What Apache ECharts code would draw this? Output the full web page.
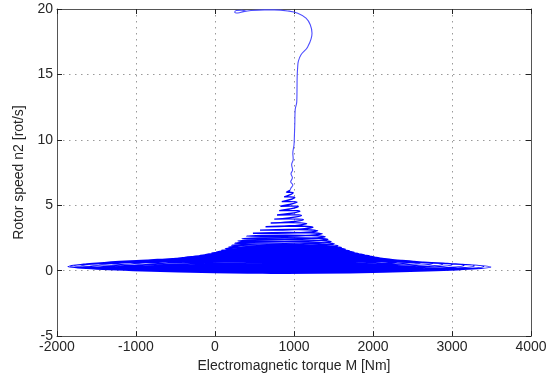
<!DOCTYPE html>
<html>
<head>
<meta charset="utf-8">
<script src="https://cdn.jsdelivr.net/npm/echarts@6/dist/echarts.min.js"></script>
<style>
  html, body { margin: 0; padding: 0; background: #fff; }
  #chart { width: 554px; height: 378px; }
</style>
</head>
<body>
<div id="chart"></div>
<script>
// axis ticks
const torqueTicks = [-2000, -1000, 0, 1000, 2000, 3000, 4000];
const speedTicks = [-5, 0, 5, 10, 15, 20];

// start of the run-up
const startTorque = [0, 900];
const startSpeed = [0, -0.2];

// one entry per torque oscillation: right tip -> top -> left tip -> bottom
const rightTorque = [3490, 3400, 3280, 3150, 3000, 2880, 2760, 2620, 2500, 2380, 2270, 2180, 2100, 2030, 1960, 1890, 1820, 1760, 1700, 1650, 1600, 1555, 1510, 1470, 1430, 1395, 1360, 1300, 1240, 1160, 1120, 1095, 1075, 1055, 1040, 1010, 990];
const rightSpeed = [0.28, 0.32, 0.36, 0.40, 0.45, 0.50, 0.55, 0.61, 0.67, 0.73, 0.80, 0.87, 0.95, 1.03, 1.12, 1.21, 1.31, 1.41, 1.52, 1.64, 1.77, 1.91, 2.06, 2.22, 2.40, 2.60, 2.82, 3.06, 3.32, 3.60, 3.90, 4.22, 4.55, 4.89, 5.24, 5.60, 5.96];
const topTorque = [815, 780, 750, 725, 700, 690, 715, 745, 770, 790, 810, 830, 850, 865, 880, 885, 890, 890, 890, 890, 885, 882, 880, 880, 885, 898, 920, 935, 940, 932, 935, 940, 943, 941, 942, 942, 947];
const topSpeed = [0.80, 0.84, 0.87, 0.90, 0.94, 0.97, 1.00, 1.04, 1.08, 1.12, 1.17, 1.22, 1.28, 1.34, 1.41, 1.48, 1.56, 1.64, 1.73, 1.83, 1.94, 2.07, 2.21, 2.36, 2.53, 2.72, 2.93, 3.16, 3.41, 3.67, 3.96, 4.28, 4.60, 4.94, 5.28, 5.64, 5.99];
const leftTorque = [-1860, -1840, -1780, -1700, -1600, -1500, -1330, -1130, -960, -800, -650, -520, -400, -300, -200, -120, -40, 20, 80, 130, 170, 210, 250, 290, 340, 400, 480, 570, 640, 705, 750, 785, 812, 828, 845, 875, 905];
const leftSpeed = [0.32, 0.36, 0.40, 0.44, 0.49, 0.54, 0.59, 0.65, 0.71, 0.77, 0.84, 0.91, 0.99, 1.07, 1.16, 1.25, 1.35, 1.45, 1.56, 1.68, 1.81, 1.95, 2.10, 2.26, 2.44, 2.64, 2.86, 3.10, 3.36, 3.64, 3.94, 4.26, 4.59, 4.93, 5.28, 5.64, 6.00];
const bottomTorque = [820, 785, 755, 730, 705, 695, 720, 750, 775, 795, 815, 835, 855, 870, 885, 890, 893, 893, 893, 892, 888, 885, 883, 883, 888, 900, 922, 937, 941, 934, 937, 941, 944, 942, 943, 944, 950];
const bottomSpeed = [-0.18, -0.14, -0.09, -0.035, 0.025, 0.095, 0.17, 0.25, 0.33, 0.415, 0.505, 0.60, 0.70, 0.805, 0.915, 1.03, 1.15, 1.275, 1.41, 1.555, 1.71, 1.865, 2.03, 2.21, 2.41, 2.63, 2.87, 3.13, 3.41, 3.72, 4.04, 4.37, 4.71, 5.06, 5.42, 5.785, 6.14];

// steady rise and the hook near synchronous speed
const riseTorque = [960, 985, 958, 980, 962, 982, 970, 990, 985, 1000, 1005, 1010, 1015, 1035, 1038, 1040, 1047, 1055, 1089, 1173, 1228, 1206, 1152, 1047, 920, 751, 624, 456, 360, 290, 250, 270, 340, 400];
const riseSpeed = [6.3, 6.55, 6.8, 7.1, 7.4, 7.7, 8.1, 8.5, 9.0, 9.6, 10.3, 11.2, 12.3, 12.9, 13.8, 14.8, 15.6, 16.0, 16.5, 17.1, 18.15, 18.8, 19.3, 19.68, 19.85, 19.93, 19.93, 19.88, 19.8, 19.7, 19.76, 19.88, 19.9, 19.82];

const bandPath = [];
startTorque.forEach((t, i) => bandPath.push([t, startSpeed[i]]));
rightTorque.forEach((t, i) => {
  bandPath.push([t, rightSpeed[i]]);
  bandPath.push([topTorque[i], topSpeed[i]]);
  bandPath.push([leftTorque[i], leftSpeed[i]]);
  bandPath.push([bottomTorque[i], bottomSpeed[i]]);
});
// the rise continues from where the band ends
const risePath = [bandPath[bandPath.length - 1]];
riseTorque.forEach((t, i) => risePath.push([t, riseSpeed[i]]));

const font = 'Arial, "Liberation Sans", Helvetica, sans-serif';
const axisColor = '#555';
const textColor = '#262626';
const gridLine = { show: true, lineStyle: { color: '#9a9a9a', width: 1, type: [1.5, 4.5] } };

const chart = echarts.init(document.getElementById('chart'), null, { renderer: 'canvas' });

const baseX = {
  type: 'value',
  min: torqueTicks[0],
  max: torqueTicks[torqueTicks.length - 1],
  interval: 1000,
  axisLine: { show: true, onZero: false, lineStyle: { color: axisColor, width: 1 } },
  axisTick: { show: true, inside: true, length: 5, lineStyle: { color: '#222' } },
};
const baseY = {
  type: 'value',
  min: speedTicks[0],
  max: speedTicks[speedTicks.length - 1],
  interval: 5,
  axisLine: { show: true, onZero: false, lineStyle: { color: axisColor, width: 1 } },
  axisTick: { show: true, inside: true, length: 5, lineStyle: { color: '#222' } },
};

chart.setOption({
  animation: false,
  backgroundColor: '#fff',
  grid: { left: 57, right: 23, top: 9, bottom: 36, containLabel: false },
  xAxis: [
    {
      ...baseX,
      position: 'bottom',
      name: 'Electromagnetic torque M [Nm]',
      nameLocation: 'middle',
      nameGap: 22,
      nameTextStyle: { color: textColor, fontSize: 14, fontFamily: font },
      axisLabel: { color: textColor, fontSize: 14, fontFamily: font, margin: 4, formatter: v => String(v) },
      splitLine: gridLine,
    },
    {
      ...baseX,
      position: 'top',
      axisLabel: { show: false },
      splitLine: { show: false },
    },
  ],
  yAxis: [
    {
      ...baseY,
      position: 'left',
      name: 'Rotor speed n2 [rot/s]',
      nameLocation: 'middle',
      nameGap: 28,
      nameTextStyle: { color: textColor, fontSize: 14, fontFamily: font },
      axisLabel: { color: textColor, fontSize: 14, fontFamily: font, margin: 4, formatter: v => String(v) },
      splitLine: gridLine,
    },
    {
      ...baseY,
      position: 'right',
      axisLabel: { show: false },
      splitLine: { show: false },
    },
  ],
  series: [
    {
      type: 'line',
      data: bandPath,
      smooth: 0.4,
      showSymbol: false,
      lineStyle: { color: '#0000ff', width: 1.4 },
    },
    {
      type: 'line',
      data: risePath,
      smooth: 0.4,
      showSymbol: false,
      lineStyle: { color: '#4c4cff', width: 1.1 },
    },
  ],
});
</script>
</body>
</html>
